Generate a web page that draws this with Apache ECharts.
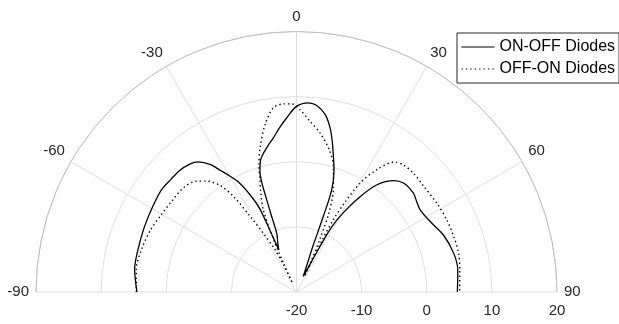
<!DOCTYPE html>
<html>
<head>
<meta charset="utf-8">
<title>Radiation pattern</title>
<script src="https://cdn.jsdelivr.net/npm/echarts@6/dist/echarts.min.js"></script>
<style>
  html, body { margin: 0; padding: 0; background: #fff; }
  #chart { width: 619px; height: 324px; }
</style>
</head>
<body>
<div id="chart"></div>
<script>
// gain (dB) against angle (deg)
var onOffAngles = [-90, -82, -75, -67, -60, -53, -48, -44, -40, -37, -34, -32, -30, -27.5, -25.5,
  -23.8, -23.3, -22.8, -21, -18.6, -18.2, -17.9, -17.6, -16.9, -15.5, -13.6, -11, -8.6, -6, -3.2,
  0, 3.6, 6.2, 9.2, 11.6, 13.5, 15.2, 17.1, 19.0, 19.5, 19.7, 20.7, 23.5, 26.3, 27.3,
  28.5, 30.5, 33.7, 36.9, 41.1, 44.5, 49.8, 53, 56.4, 62.2, 68.8, 76.1, 82.2, 90]
var onOffGain = [4.5, 5.1, 5.2, 5.4, 5.65, 6.0, 5.9, 5.9, 5.6, 5.0, 3.6, 2.0, 0.6, -1.2, -3.5,
  -6, -10, -13, -12, -10.5, -7.8, -5.1, -2.5, -0.7, 0.8, 1.8, 2.9, 3.9, 5.3, 6.8,
  8.5, 9.1, 8.8, 7.6, 5.7, 3.6, 1.6, -0.4, -3.4, -7.5, -12.5, -15, -17.4, -14.8, -12,
  -8.5, -5.9, -2.4, 0.6, 2.7, 3.45, 3.5, 3.1, 2.8, 3.2, 4.2, 4.85, 5.0, 4.7]

var offOnAngles = [-90, -82, -74, -67, -60, -54, -47, -42, -39, -35.5, -33.3, -31.5, -29.5, -27, -25.5,
  -24.5, -24.2, -23.6, -22, -19.5, -18, -16.5, -14.2, -10.7, -7.2, -4, -1.5, 1.1, 4.5, 8.4,
  12.8, 16.4, 19.8, 22.3, 23.8, 25.2, 26.8, 26.5, 26.3, 27, 28.3, 30.3, 33.3, 37, 40.1,
  44.5, 50.3, 57.7, 64.4, 70.6, 76.5, 82.3, 90]
var offOnGain = [4.6, 4.85, 4.65, 4.35, 3.9, 3.7, 3.6, 2.9, 1.9, 0, -2.6, -6.4, -9.6, -12.6, -15.5,
  -18.5, -15, -11.2, -6.4, -3.5, -1.9, 0.3, 2.8, 6.1, 8.5, 8.95, 8.9, 8.0, 6.3, 4.7,
  2.5, 0.1, -3.3, -7, -11, -14.5, -17.3, -14.5, -11, -7.5, -4.5, -0.6, 2.5, 5.0, 5.5,
  5.6, 5.4, 5.5, 5.6, 5.6, 5.6, 5.3, 5.05]

var angleTicks = [-90, -60, -30, 0, 30, 60, 90]
var radiusTicks = [-20, -10, 0, 10, 20]
var seriesNames = ['ON-OFF Diodes', 'OFF-ON Diodes']

var font = 'Liberation Sans, Arial, Helvetica, sans-serif'
var cx = 296.5, cy = 292, R = 260.5

function pairs(angles, gain) {
  // polar data is [radius, angle]
  return angles.map(function (a, i) { return [gain[i], a] })
}

var myChart = echarts.init(document.getElementById('chart'))

var option = {
  animation: false,
  legend: {
    orient: 'vertical',
    left: 457,
    top: 33,
    padding: [6, 4, 6, 4],
    itemGap: 6,
    itemWidth: 33,
    itemHeight: 14,
    borderColor: '#262626',
    borderWidth: 1,
    itemStyle: { opacity: 0 },
    lineStyle: { width: 1 },
    textStyle: { color: '#000', fontSize: 16, fontFamily: font },
    data: seriesNames
  },
  polar: {
    center: [cx, cy],
    radius: R
  },
  angleAxis: {
    type: 'value',
    min: angleTicks[0],
    max: angleTicks[angleTicks.length - 1],
    interval: angleTicks[1] - angleTicks[0],
    startAngle: 180,
    endAngle: 0,
    clockwise: true,
    axisLine: { show: true, lineStyle: { color: '#bdbdbd', width: 1 } },
    axisTick: { show: false },
    axisLabel: { color: '#262626', fontSize: 15, fontFamily: font, margin: 7 },
    splitLine: { show: true, lineStyle: { color: '#dedede', width: 1 } }
  },
  radiusAxis: {
    type: 'value',
    min: radiusTicks[0],
    max: radiusTicks[radiusTicks.length - 1],
    interval: radiusTicks[1] - radiusTicks[0],
    axisLine: { show: false },
    axisTick: { show: false },
    axisLabel: { show: false },
    splitLine: { show: true, lineStyle: { color: '#dedede', width: 1 } }
  },
  // radial tick labels sit along the right-hand baseline
  grid: { left: cx, width: R, top: 0, height: cy },
  xAxis: {
    type: 'value',
    min: radiusTicks[0],
    max: radiusTicks[radiusTicks.length - 1],
    interval: radiusTicks[1] - radiusTicks[0],
    axisLine: { show: false },
    axisTick: { show: false },
    splitLine: { show: false },
    axisLabel: { color: '#262626', fontSize: 15, fontFamily: font, margin: 11 }
  },
  yAxis: { type: 'value', show: false },
  series: [
    {
      name: seriesNames[0],
      type: 'line',
      coordinateSystem: 'polar',
      symbol: 'none',
      smooth: 0.3,
      lineStyle: { color: '#000', width: 1.3, type: 'solid' },
      itemStyle: { color: '#000' },
      data: pairs(onOffAngles, onOffGain)
    },
    {
      name: seriesNames[1],
      type: 'line',
      coordinateSystem: 'polar',
      symbol: 'none',
      smooth: 0.3,
      lineStyle: { color: '#000', width: 1.4, type: [1.4, 3] },
      itemStyle: { color: '#000' },
      data: pairs(offOnAngles, offOnGain)
    }
  ]
}

myChart.setOption(option)
</script>
</body>
</html>
